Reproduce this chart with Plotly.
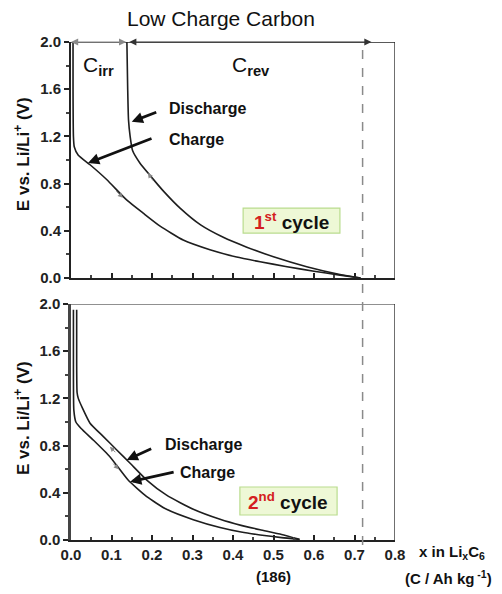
import plotly.graph_objects as go

# ---- data ----
c1_dis_x = [0.005, 0.005, 0.006, 0.008, 0.018, 0.047, 0.088, 0.138, 0.179, 0.22, 0.277, 0.343, 0.409, 0.467, 0.53, 0.6, 0.66, 0.715]
c1_dis_y = [2.0, 1.6, 1.2, 1.113, 1.04, 0.96, 0.835, 0.66, 0.548, 0.44, 0.322, 0.24, 0.178, 0.138, 0.098, 0.058, 0.027, 0.0]

c1_chg_x = [0.715, 0.664, 0.582, 0.5, 0.434, 0.376, 0.32, 0.27, 0.23, 0.195, 0.17, 0.152, 0.146, 0.142, 0.14, 0.138]
c1_chg_y = [0.0, 0.03, 0.096, 0.18, 0.262, 0.345, 0.45, 0.59, 0.73, 0.87, 0.975, 1.08, 1.2, 1.34, 1.6, 2.0]

c2_chg_x = [0.006, 0.006, 0.007, 0.012, 0.025, 0.055, 0.096, 0.141, 0.187, 0.236, 0.302, 0.368, 0.42, 0.467, 0.52, 0.565]
c2_chg_y = [1.95, 1.5, 1.1, 1.0, 0.945, 0.847, 0.706, 0.508, 0.367, 0.26, 0.172, 0.106, 0.068, 0.043, 0.02, 0.005]

c2_dis_x = [0.014, 0.014, 0.015, 0.018, 0.028, 0.047, 0.08, 0.113, 0.146, 0.187, 0.236, 0.302, 0.368, 0.42, 0.467, 0.52, 0.562]
c2_dis_y = [1.95, 1.5, 1.25, 1.2, 1.12, 0.99, 0.876, 0.763, 0.65, 0.508, 0.38, 0.26, 0.175, 0.124, 0.087, 0.047, 0.008]

x_ticks = [0.0, 0.1, 0.2, 0.3, 0.4, 0.5, 0.6, 0.7, 0.8]
y_ticks = [0.0, 0.4, 0.8, 1.2, 1.6, 2.0]
x_rev_end = 0.72        # reversible capacity limit (dashed line)
x_irr = 0.14            # end of irreversible capacity

title_text = "Low Charge Carbon"
y_title = "E vs. Li/Li<sup>+</sup> (V)"
x_title = "x in Li<sub>x</sub>C<sub>6</sub>"
x_title2 = "(C / Ah kg<sup> -1</sup>)"

FONT = "Liberation Sans, Arial, sans-serif"
LINE = "#1e1e1e"

fig = go.Figure()
for xs, ys, xa, ya in [(c1_dis_x, c1_dis_y, "x", "y"), (c1_chg_x, c1_chg_y, "x", "y"),
                       (c2_chg_x, c2_chg_y, "x2", "y2"), (c2_dis_x, c2_dis_y, "x2", "y2")]:
    fig.add_trace(go.Scatter(x=xs, y=ys, mode="lines", xaxis=xa, yaxis=ya,
                             line=dict(color=LINE, width=1.6, shape="spline", smoothing=0.5),
                             showlegend=False, hoverinfo="skip"))

tickfont = dict(family=FONT, size=15, color="#222", weight="bold")
yax = dict(range=[0, 2.0], tickvals=y_ticks, ticktext=[f"{v:.1f}" for v in y_ticks],
           ticks="outside", ticklen=5, tickwidth=1.5, tickcolor="#222",
           minor=dict(dtick=0.2, ticks="outside", ticklen=3, tickcolor="#444"),
           showline=True, linecolor="#222", linewidth=2, showgrid=False, zeroline=False,
           tickfont=tickfont, fixedrange=True)
xax = dict(range=[0, 0.8], tickvals=x_ticks, ticktext=[f"{v:.1f}" for v in x_ticks],
           ticks="inside", ticklen=5, tickwidth=1.5, tickcolor="#222",
           minor=dict(dtick=0.05, ticks="inside", ticklen=3, tickcolor="#444"),
           showline=True, linecolor="#222", linewidth=2, showgrid=False, zeroline=False,
           tickfont=tickfont, fixedrange=True)

fig.update_layout(
    width=502, height=594,
    margin=dict(l=71, r=107, t=42, b=54),
    paper_bgcolor="white", plot_bgcolor="white",
    xaxis=dict(xax, domain=[0, 1], anchor="y", showticklabels=False),
    yaxis=dict(yax, domain=[0.526, 1], anchor="x"),
    xaxis2=dict(xax, domain=[0, 1], anchor="y2"),
    yaxis2=dict(yax, domain=[0, 0.474], anchor="x2", linecolor="#444", linewidth=2.5),
)

shapes = []
# top and right borders of both panels
for xr, yr in [("x", "y"), ("x2", "y2")]:
    shapes.append(dict(type="line", xref=xr, yref=yr, x0=0, x1=0.8, y0=2.0, y1=2.0,
                       line=dict(color="#222", width=1.3)))
    shapes.append(dict(type="line", xref=xr, yref=yr, x0=0.8, x1=0.8, y0=0, y1=2.0,
                       line=dict(color="#222", width=1.3)))
# dashed reversible capacity line spanning both panels
shapes.append(dict(type="line", xref="x", yref="paper", x0=x_rev_end, x1=x_rev_end, y0=-0.01, y1=1.0,
                   line=dict(color="#8a8a8a", width=1.5, dash="dash")))
# cycle boxes
shapes.append(dict(type="rect", xref="x", yref="y", x0=0.425, x1=0.664, y0=0.381, y1=0.593,
                   fillcolor="#eef8d6", line=dict(color="#b9dc8e", width=1.2), layer="above"))
shapes.append(dict(type="rect", xref="x2", yref="y2", x0=0.417, x1=0.657, y0=0.212, y1=0.449,
                   fillcolor="#eef8d6", line=dict(color="#b9dc8e", width=1.2), layer="above"))
fig.update_layout(shapes=shapes)

ann = []
lab = dict(family=FONT, size=16, color="#111", weight="bold")
# title
ann.append(dict(text=title_text, xref="paper", yref="paper", x=0.463, y=1.048,
                xanchor="center", yanchor="middle", showarrow=False,
                font=dict(family=FONT, size=21, color="#111")))
# y titles
for yc in [0.775, 0.245]:
    ann.append(dict(text=y_title, xref="paper", yref="paper", x=-0.151, y=yc, textangle=-90,
                    xanchor="center", yanchor="middle", showarrow=False,
                    font=dict(family=FONT, size=17, color="#111", weight="bold")))
# x titles
ann.append(dict(text=x_title, xref="paper", yref="paper", x=1.176, y=-0.026,
                xanchor="center", yanchor="middle", showarrow=False,
                font=dict(family=FONT, size=15, color="#111", weight="bold")))
ann.append(dict(text=x_title2, xref="paper", yref="paper", x=1.164, y=-0.076,
                xanchor="center", yanchor="middle", showarrow=False,
                font=dict(family=FONT, size=15, color="#111", weight="bold")))
ann.append(dict(text="(186)", xref="x2", yref="paper", x=0.5, y=-0.074,
                xanchor="center", yanchor="middle", showarrow=False,
                font=dict(family=FONT, size=15, color="#111", weight="bold")))
# capacity arrows
ann.append(dict(text="", xref="x", yref="y", axref="x", ayref="y", x=0.0, y=2.0, ax=x_irr, ay=2.0,
                showarrow=True, arrowhead=2, arrowside="end+start", arrowsize=1.2, arrowwidth=1.2,
                arrowcolor="#8a8a8a"))
ann.append(dict(text="", xref="x", yref="y", axref="x", ayref="y", x=0.742, y=2.0, ax=x_irr, ay=2.0,
                showarrow=True, arrowhead=2, arrowside="end+start", arrowsize=1.2, arrowwidth=1.2,
                arrowcolor="#333"))
ann.append(dict(text="C<b><sub>irr</sub></b>", xref="x", yref="y", x=0.067, y=1.8, showarrow=False,
                xanchor="center", yanchor="middle", font=dict(family=FONT, size=21, color="#111")))
ann.append(dict(text="C<b><sub>rev</sub></b>", xref="x", yref="y", x=0.444, y=1.8, showarrow=False,
                xanchor="center", yanchor="middle", font=dict(family=FONT, size=21, color="#111")))
# labels with arrows
for xr, yr, tx, ty, txt, px, py, ax, ay in [
        ("x", "y", 0.237, 1.44, "Discharge", 0.15, 1.325, 26, -10),
        ("x", "y", 0.236, 1.178, "Charge", 0.042, 0.975, 65, -25),
        ("x2", "y2", 0.227, 0.805, "Discharge", 0.1375, 0.678, 26, -12),
        ("x2", "y2", 0.264, 0.57, "Charge", 0.146, 0.494, 45, -10)]:
    ann.append(dict(text=txt, xref=xr, yref=yr, x=tx, y=ty, xanchor="left", yanchor="middle",
                    showarrow=False, font=lab))
    ann.append(dict(text="", xref=xr, yref=yr, x=px, y=py, ax=ax, ay=ay, showarrow=True,
                    arrowhead=2, arrowsize=0.8, arrowwidth=2.8, arrowcolor="#111"))
# small direction arrows on curves
for xr, yr, px, py, ax, ay in [("x", "y", 0.128, 0.68, -8, -8), ("x", "y", 0.19, 0.89, 6, 9),
                               ("x2", "y2", 0.096, 0.79, 7, 7), ("x2", "y2", 0.118, 0.6, -7, -7)]:
    ann.append(dict(text="", xref=xr, yref=yr, x=px, y=py, ax=ax, ay=ay, showarrow=True,
                    arrowhead=2, arrowsize=1, arrowwidth=1, arrowcolor="#888"))
# cycle labels
ann.append(dict(text="<span style='color:#d42020'>1<sup>st</sup></span> cycle", xref="x", yref="y",
                x=0.5445, y=0.487, xanchor="center", yanchor="middle", showarrow=False,
                font=dict(family=FONT, size=19, color="#111", weight="bold")))
ann.append(dict(text="<span style='color:#d42020'>2<sup>nd</sup></span> cycle", xref="x2", yref="y2",
                x=0.537, y=0.33, xanchor="center", yanchor="middle", showarrow=False,
                font=dict(family=FONT, size=19, color="#111", weight="bold")))
fig.update_layout(annotations=ann)

fig.write_html("out.html")
